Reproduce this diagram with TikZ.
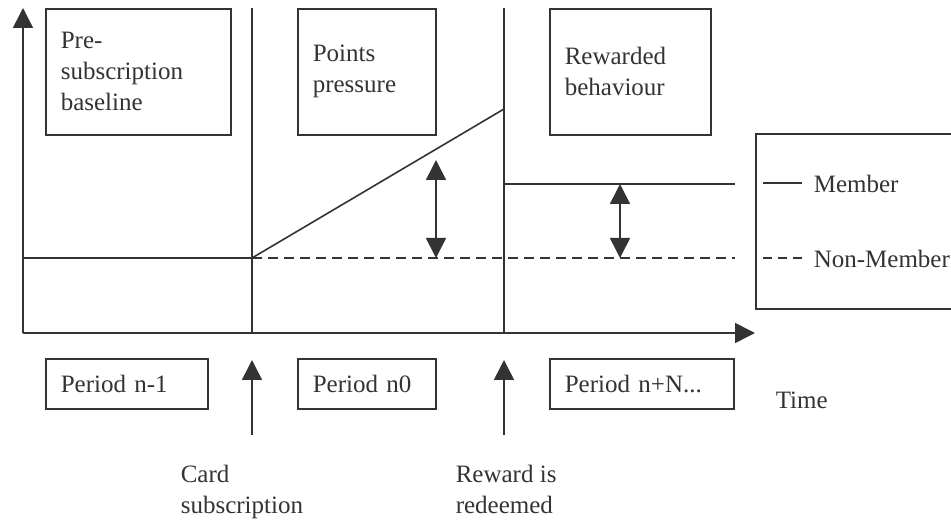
\documentclass[tikz,border=0pt]{standalone}
\usepackage{fontspec}
\setmainfont{Liberation Serif}
\usetikzlibrary{arrows.meta}
\begin{document}
\begin{tikzpicture}[x=1pt,y=-1pt,line width=1.6pt,draw=black!80,text=black!80,
  tip/.style={-{Triangle[length=20pt,width=20pt]}},
  dtip/.style={{Triangle[length=20pt,width=20pt]}-{Triangle[length=20pt,width=20pt]}},
  txt/.style={font=\fontsize{25}{31}\selectfont},
  phase/.style={txt,draw,anchor=north west,minimum height=126pt,text width=#1,inner xsep=15pt,inner ysep=0pt,align=left},
  period/.style={txt,draw,anchor=north west,minimum height=50pt,text width=#1,inner xsep=15pt,inner ysep=0pt,align=left},
  label/.style={txt,anchor=base west,align=left,inner sep=0pt},
  nmdash/.style={dash pattern=on 10pt off 6pt}]
\clip (0,0) rectangle (951,521);
% axes
\coordinate (O) at (23,333);
\coordinate (ytop) at (23,8);
\coordinate (xend) at (755,333);
\draw[tip] (O) -- (ytop);
\draw[tip] (O) -- (xend);
% phase separators
\coordinate (v1t) at (252,8);
\coordinate (v1b) at (252,333);
\coordinate (v2t) at (504,8);
\coordinate (v2b) at (504,333);
\draw (v1t) -- (v1b);
\draw (v2t) -- (v2b);
% phase boxes
\node[phase=155pt] (b1) at (45,8) {Pre-\\subscription\\baseline};
\node[phase=108pt] (b2) at (297,8) {Points\\pressure};
\node[phase=131pt] (b3) at (549,8) {Rewarded\\behaviour};
% curves
\coordinate (base0) at (23,258);
\coordinate (base1) at (252,258);
\coordinate (base2) at (735,258);
\coordinate (peak) at (504,109);
\coordinate (m1) at (504,184);
\coordinate (m2) at (735,184);
\draw (base0) -- (base1);
\draw[nmdash] (base1) -- (base2);
\draw (base1) -- (peak);
\draw (m1) -- (m2);
% gap arrows
\coordinate (g1t) at (436,160);
\coordinate (g1b) at (436,258);
\coordinate (g2t) at (620,184);
\coordinate (g2b) at (620,258);
\draw[dtip] (g1t) -- (g1b);
\draw[dtip] (g2t) -- (g2b);
% legend
\node[draw,anchor=north west,minimum width=210pt,minimum height=175pt,inner sep=0pt] (legend) at (755,133) {};
\coordinate (ls1) at (763,183);
\coordinate (ls2) at (802,183);
\coordinate (ld1) at (763,258);
\coordinate (ld2) at (802,258);
\draw (ls1) -- (ls2);
\draw[dash pattern=on 9pt off 6pt] (ld1) -- (ld2);
\node[label] (mem) at (813,193) {Member};
\node[label] (nonmem) at (813,268) {Non-Member};
% periods
\node[period=132pt] (p1) at (45,358) {Period n-1};
\node[period=108pt] (p2) at (297,358) {Period n0};
\node[period=154pt] (p3) at (549,358) {Period n+N...};
\node[label] (time) at (775,408) {Time};
% events
\coordinate (e1b) at (252,435);
\coordinate (e1t) at (252,360);
\coordinate (e2b) at (504,435);
\coordinate (e2t) at (504,360);
\draw[tip] (e1b) -- (e1t);
\draw[tip] (e2b) -- (e2t);
\node[label] (card) at (180,513) {Card\\subscription};
\node[label] (reward) at (455,513) {Reward is\\redeemed};
\end{tikzpicture}
\end{document}
